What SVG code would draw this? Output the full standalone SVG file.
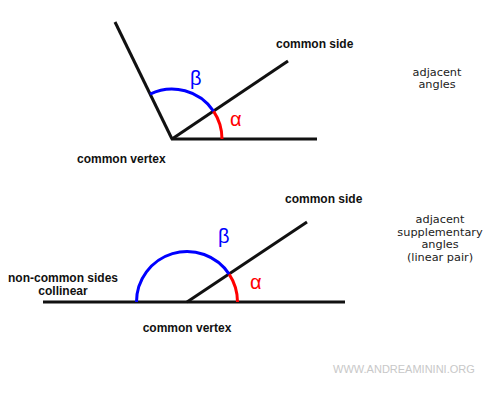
<svg xmlns="http://www.w3.org/2000/svg" width="500" height="400" viewBox="0 0 500 400">
<style>
.side{stroke:#111;stroke-width:3;fill:none;stroke-linecap:butt}
.red{stroke:#f00;stroke-width:3;fill:none}
.blue{stroke:#00f;stroke-width:3;fill:none}
.lbl{font-family:"Liberation Sans",Arial,sans-serif;font-size:12px;font-weight:bold;fill:#111}
.note{font-family:"DejaVu Sans",Verdana,sans-serif;font-size:11.3px;fill:#222;text-anchor:middle}
.ga{font-family:"Liberation Sans",Arial,sans-serif;font-size:20px;fill:#f00}
.gb{font-family:"Liberation Sans",Arial,sans-serif;font-size:20px;fill:#00f}
.wm{font-family:"Liberation Sans",Arial,sans-serif;font-size:11px;fill:#c8c8c8}
</style>
<rect width="500" height="400" fill="#fff"/>
<g id="connectors">
  <line class="side" x1="172" y1="139" x2="115" y2="22"/>
  <line class="side" x1="172" y1="139" x2="288" y2="61"/>
  <line class="side" x1="171" y1="139" x2="317" y2="139"/>
  <line class="side" x1="43" y1="302" x2="345" y2="302"/>
  <line class="side" x1="187" y1="302" x2="307" y2="222"/>
</g>
<g id="top-angles">
  <path class="red" d="M222 139 A50 50 0 0 0 213.5 111.1"/>
  <path class="blue" d="M213.5 111.1 A50 50 0 0 0 150.1 94.1"/>
  <text class="gb" x="190" y="85">β</text>
  <text class="ga" x="230" y="126">α</text>
  <text class="lbl" x="276" y="48">common side</text>
  <text class="lbl" x="77" y="163">common vertex</text>
  <text class="note" x="437"><tspan x="437" y="76">adjacent</tspan><tspan x="437" y="88">angles</tspan></text>
</g>
<g id="bottom-angles">
  <path class="red" d="M237.5 302 A50.5 50.5 0 0 0 229.1 274.1"/>
  <path class="blue" d="M229.1 274.1 A50.5 50.5 0 0 0 136.5 302"/>
  <text class="gb" x="218" y="243">β</text>
  <text class="ga" x="250" y="289">α</text>
  <text class="lbl" x="285" y="203">common side</text>
  <text class="lbl" x="187" y="332" text-anchor="middle">common vertex</text>
  <text class="lbl" text-anchor="middle"><tspan x="63" y="282">non-common sides</tspan><tspan x="63" y="294.5">collinear</tspan></text>
  <text class="note"><tspan x="440" y="223">adjacent</tspan><tspan x="440" y="235.5">supplementary</tspan><tspan x="440" y="248">angles</tspan><tspan x="440" y="261">(linear pair)</tspan></text>
</g>
<text class="wm" x="333" y="373">WWW.ANDREAMININI.ORG</text>
</svg>
